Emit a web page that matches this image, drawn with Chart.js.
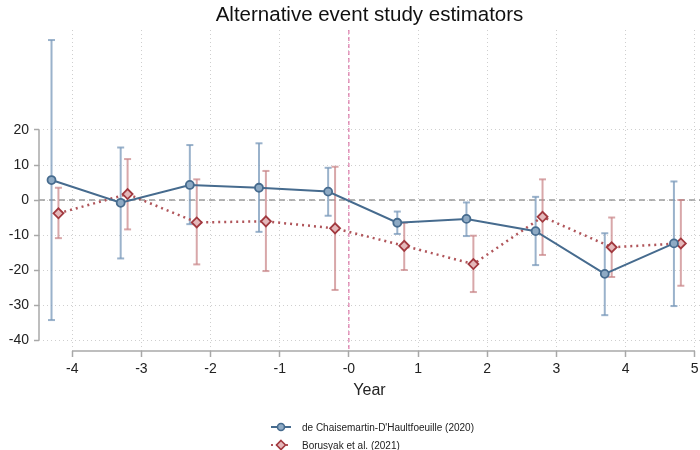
<!DOCTYPE html>
<html>
<head>
<script src="https://cdn.jsdelivr.net/npm/chart.js@4.4.0/dist/chart.umd.min.js"></script>
<style>
  body { margin: 0; background: #fff; font-family: "Liberation Sans", Arial, sans-serif; }
  #wrap { position: relative; width: 700px; height: 450px; }
  #title { position: absolute; top: 2px; left: 39px; width: 661px; text-align: center; font-size: 20.5px; color: #111; }
  #legend { position: absolute; top: 418px; left: 271px; font-size: 10px; color: #222; }
  .row { height: 18px; display: flex; align-items: center; }
  .row svg { margin-right: 11px; }
</style>
</head>
<body>
<div id="wrap">
  <canvas id="myChart" width="700" height="450"></canvas>
  <div id="title">Alternative event study estimators</div>
  <div id="legend"></div>
</div>
<script>
const xTicks = [-4, -3, -2, -1, 0, 1, 2, 3, 4, 5];
const xTickLabels = ['-4', '-3', '-2', '-1', '-0', '1', '2', '3', '4', '5'];
const yTicks = [20, 10, 0, -10, -20, -30, -40];

// de Chaisemartin-D'Haultfoeuille
const xDcdh = [-4.3, -3.3, -2.3, -1.3, -0.3, 0.7, 1.7, 2.7, 3.7, 4.7];
const dcdhEst = [5.7, -0.8, 4.3, 3.5, 2.4, -6.5, -5.4, -8.9, -21.1, -12.4];
const dcdhLo = [-34.3, -16.7, -6.9, -9.1, -4.5, -9.7, -10.3, -18.6, -32.9, -30.3];
const dcdhHi = [45.7, 15.0, 15.7, 16.2, 9.2, -3.3, -0.7, 0.9, -9.5, 5.3];

// Borusyak et al.
const xBjs = [-4.2, -3.2, -2.2, -1.2, -0.2, 0.8, 1.8, 2.8, 3.8, 4.8];
const bjsEst = [-3.8, 1.7, -6.4, -6.1, -8.1, -13.1, -18.3, -4.8, -13.5, -12.4];
const bjsLo = [-10.9, -8.4, -18.4, -20.3, -25.7, -20.0, -26.3, -15.7, -22.0, -24.5];
const bjsHi = [3.5, 11.7, 5.9, 8.3, 9.5, -6.5, -10.2, 5.9, -5.0, 0.0];

const blue = '#466b8e', blueFill = '#8eaac4', blueCi = 'rgba(120,152,185,0.75)';
const red = '#a2393f', redFill = '#e4b8ba', redCi = 'rgba(200,130,133,0.7)';

const toPts = (xs, ys) => xs.map((x, i) => ({x: x, y: ys[i]}));

function seg(ctx, x1, y1, x2, y2) {
  ctx.beginPath(); ctx.moveTo(x1, y1); ctx.lineTo(x2, y2); ctx.stroke();
}

const extras = {
  id: 'extras',
  beforeDatasetsDraw(chart) {
    const {ctx, chartArea, scales: {x, y}} = chart;
    ctx.save();
    // reference lines
    ctx.strokeStyle = '#9a9a9a'; ctx.lineWidth = 1.5; ctx.setLineDash([6, 4]);
    const y0 = y.getPixelForValue(0);
    seg(ctx, chartArea.left, y0, chartArea.right, y0);
    ctx.strokeStyle = '#d65c98'; ctx.lineWidth = 1; ctx.setLineDash([4, 3]);
    const x0 = x.getPixelForValue(0);
    seg(ctx, x0, chartArea.top, x0, chartArea.bottom);
    // axis lines only over the tick range
    ctx.setLineDash([]); ctx.strokeStyle = '#a8a8a8'; ctx.lineWidth = 1.5;
    seg(ctx, chartArea.left, y.getPixelForValue(yTicks[0]), chartArea.left, y.getPixelForValue(yTicks[yTicks.length - 1]));
    seg(ctx, x.getPixelForValue(xTicks[0]), chartArea.bottom, x.getPixelForValue(xTicks[xTicks.length - 1]), chartArea.bottom);
    // confidence intervals
    const bars = [[xDcdh, dcdhLo, dcdhHi, blueCi], [xBjs, bjsLo, bjsHi, redCi]];
    ctx.lineWidth = 2;
    for (const [xs, lo, hi, col] of bars) {
      ctx.strokeStyle = col;
      xs.forEach((v, i) => {
        const px = x.getPixelForValue(v);
        const top = y.getPixelForValue(hi[i]), bot = y.getPixelForValue(lo[i]);
        seg(ctx, px, top, px, bot);
        seg(ctx, px - 3.5, top, px + 3.5, top);
        seg(ctx, px - 3.5, bot, px + 3.5, bot);
      });
    }
    ctx.restore();
  }
};

const myChart = new Chart(document.getElementById('myChart'), {
  type: 'scatter',
  data: {
    datasets: [{
      label: "de Chaisemartin-D'Haultfoeuille (2020)",
      data: toPts(xDcdh, dcdhEst),
      showLine: true,
      borderColor: blue,
      borderWidth: 2,
      pointStyle: 'circle',
      pointRadius: 4,
      pointBorderWidth: 1.8,
      pointBackgroundColor: blueFill,
      pointBorderColor: blue
    }, {
      label: 'Borusyak et al. (2021)',
      data: toPts(xBjs, bjsEst),
      showLine: true,
      borderColor: '#b0555a',
      borderWidth: 2.5,
      borderDash: [2, 4],
      pointStyle: 'rectRot',
      pointRadius: 5,
      pointBorderWidth: 1.8,
      pointBackgroundColor: redFill,
      pointBorderColor: red
    }]
  },
  options: {
    responsive: false,
    animation: false,
    layout: { autoPadding: false, padding: { top: 30, bottom: 46, left: 0, right: 0 } },
    plugins: { legend: { display: false }, tooltip: { enabled: false } },
    scales: {
      x: {
        type: 'linear',
        min: -4.481,
        max: 5.077,
        afterBuildTicks: s => { s.ticks = xTicks.map(v => ({value: v})); },
        afterFit: s => { s.height = 53; s.paddingLeft = 0; s.paddingRight = 0; },
        border: { display: false, dash: [1, 3] },
        grid: { color: '#cfcfcf', tickColor: '#a8a8a8', tickLength: 6, tickWidth: 1.5, tickBorderDash: [] },
        ticks: {
          autoSkip: false, maxRotation: 0, padding: 4, color: '#222',
          font: { size: 14, family: 'Liberation Sans' },
          callback: (v, i) => xTickLabels[i]
        },
        title: { display: true, text: 'Year', color: '#222', font: { size: 16, family: 'Liberation Sans' }, padding: { top: 0, bottom: 4 } }
      },
      y: {
        type: 'linear',
        min: -43.14,
        max: 48.57,
        afterBuildTicks: s => { s.ticks = yTicks.map(v => ({value: v})); },
        afterFit: s => { s.width = 39; s.paddingTop = 0; s.paddingBottom = 0; },
        border: { display: false, dash: [1, 3] },
        grid: { color: '#cfcfcf', tickColor: '#a8a8a8', tickLength: 5, tickWidth: 1.5, tickBorderDash: [] },
        ticks: { padding: 5, color: '#222', font: { size: 14, family: 'Liberation Sans' } }
      }
    }
  },
  plugins: [extras]
});

// legend stacked in two rows, like the original
const legend = document.getElementById('legend');
myChart.data.datasets.forEach(ds => {
  const row = document.createElement('div');
  row.className = 'row';
  const dash = ds.borderDash ? ' stroke-dasharray="2 3"' : '';
  const mark = ds.pointStyle === 'circle'
    ? `<circle cx="10" cy="6" r="3.5" fill="${ds.pointBackgroundColor}" stroke="${ds.pointBorderColor}" stroke-width="1.6"/>`
    : `<polygon points="10,1.5 14.5,6 10,10.5 5.5,6" fill="${ds.pointBackgroundColor}" stroke="${ds.pointBorderColor}" stroke-width="1.6"/>`;
  row.innerHTML = `<svg width="20" height="12"><line x1="0" y1="6" x2="20" y2="6" stroke="${ds.borderColor}" stroke-width="2"${dash}/>${mark}</svg><span>${ds.label}</span>`;
  legend.appendChild(row);
});
</script>
</body>
</html>
